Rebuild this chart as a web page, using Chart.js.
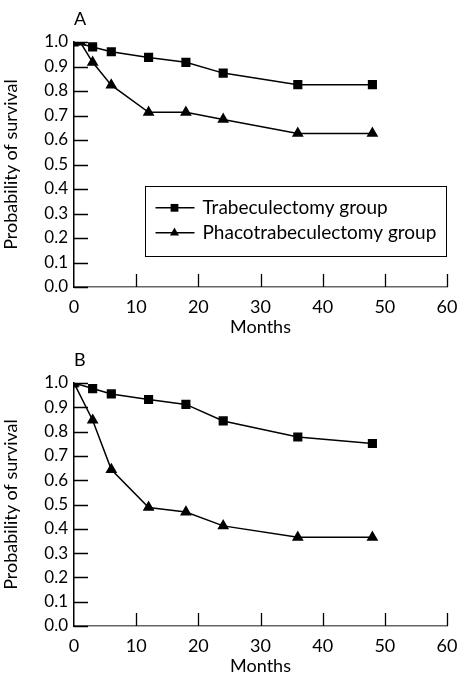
<!DOCTYPE html>
<html>
<head>
<meta charset="utf-8">
<script src="https://cdn.jsdelivr.net/npm/chart.js@4"></script>
<style>
  body { margin: 0; background: #fff; }
  canvas { display: block; }
</style>
</head>
<body>
<canvas id="chartA" width="458" height="338"></canvas>
<canvas id="chartB" width="458" height="339"></canvas>
<script>
// Monate und Überlebenswahrscheinlichkeiten
let monthsTrabA = [0, 3, 6, 12, 18, 24, 36, 48];
let trabA = [1.0, 0.98, 0.96, 0.937, 0.917, 0.873, 0.826, 0.826];
let monthsPhacoA = [0, 1, 3, 6, 12, 18, 24, 36, 48];
let phacoA = [1.0, 1.0, 0.917, 0.824, 0.713, 0.713, 0.684, 0.627, 0.627];

let monthsTrabB = [0, 3, 6, 12, 18, 24, 36, 48];
let trabB = [1.0, 0.977, 0.955, 0.932, 0.912, 0.844, 0.778, 0.751];
let monthsPhacoB = [0, 3, 6, 12, 18, 24, 36, 48];
let phacoB = [1.0, 0.847, 0.644, 0.488, 0.469, 0.412, 0.365, 0.365];

let seriesNames = ["Trabeculectomy group", "Phacotrabeculectomy group"];
let yTicks = [0, 0.1, 0.2, 0.3, 0.4, 0.5, 0.6, 0.7, 0.8, 0.9, 1.0];
let xTicks = [0, 10, 20, 30, 40, 50, 60];

const FONT = "Lato";

function toPoints(xs, ys) {
  return xs.map((x, i) => ({ x: x, y: ys[i] }));
}

// Ticks nach innen, Panelbuchstabe, Legende
const innerTicks = {
  id: "innerTicks",
  afterDraw(chart, args, opts) {
    let ctx = chart.ctx;
    let xs = chart.scales.x;
    let ys = chart.scales.y;
    let area = chart.chartArea;
    ctx.save();
    ctx.strokeStyle = "#000";
    ctx.lineWidth = 1.3;
    ctx.beginPath();
    for (let v of yTicks) {
      let py = Math.round(ys.getPixelForValue(v)) + 0.5;
      ctx.moveTo(area.left, py);
      ctx.lineTo(area.left + 14, py);
    }
    for (let v of xTicks) {
      if (v == 0) continue;
      let px = Math.round(xs.getPixelForValue(v)) + 0.5;
      ctx.moveTo(px, area.bottom);
      ctx.lineTo(px, area.bottom - 13);
    }
    ctx.stroke();
    // Buchstabe
    ctx.fillStyle = "#000";
    ctx.font = "18px " + FONT;
    ctx.textBaseline = "middle";
    ctx.textAlign = "left";
    ctx.fillText(opts.letter, area.left, area.top - 23);
    // Legende
    if (opts.legend) {
      let lx = xs.getPixelForValue(11.5);
      let rx = area.right;
      let ty = ys.getPixelForValue(0.413);
      let by = ys.getPixelForValue(0.127);
      ctx.strokeStyle = "#000";
      ctx.lineWidth = 1;
      ctx.strokeRect(Math.round(lx) + 0.5, Math.round(ty) + 0.5, Math.round(rx - lx) - 1, Math.round(by - ty));
      let styles = ["rect", "triangle"];
      let radii = [5.5, 5.2];
      for (let i = 0; i < 2; i++) {
        let cy = ty + 22 + i * 25;
        ctx.lineWidth = 1.5;
        ctx.beginPath();
        ctx.moveTo(lx + 10, cy);
        ctx.lineTo(lx + 49, cy);
        ctx.stroke();
        ctx.fillStyle = "#000";
        Chart.helpers.drawPoint(ctx, { pointStyle: styles[i], radius: radii[i], rotation: 0 }, lx + 29, cy);
        ctx.font = "19px " + FONT;
        ctx.textAlign = "left";
        ctx.textBaseline = "middle";
        ctx.fillText(seriesNames[i], lx + 57, cy);
      }
    }
    ctx.restore();
  },
};

function makeChart(id, letter, trabX, trabY, phacoX, phacoY, legend, topPad) {
  let ctx = document.getElementById(id).getContext("2d");
  return new Chart(ctx, {
    type: "line",
    data: {
      datasets: [
        {
          label: seriesNames[0],
          data: toPoints(trabX, trabY),
          borderColor: "#000",
          backgroundColor: "#000",
          borderWidth: 1.5,
          pointStyle: "rect",
          pointRadius: 5.4,
          tension: 0,
        },
        {
          label: seriesNames[1],
          data: toPoints(phacoX, phacoY),
          borderColor: "#000",
          backgroundColor: "#000",
          borderWidth: 1.5,
          pointStyle: "triangle",
          pointRadius: 5.3,
          tension: 0,
        },
      ],
    },
    options: {
      responsive: false,
      animation: false,
      layout: { padding: { left: 0, right: 11, top: topPad, bottom: 0 } },
      plugins: {
        legend: { display: false },
        tooltip: { enabled: false },
        innerTicks: { letter: letter, legend: legend },
      },
      scales: {
        x: {
          type: "linear",
          min: 0,
          max: 60,
          afterBuildTicks: (s) => { s.ticks = xTicks.map((v) => ({ value: v })); },
          afterFit: (s) => { s.height = 51; s.paddingLeft = 0; s.paddingRight = 0; },
          grid: { display: false, drawTicks: false },
          border: { display: true, color: "#666", width: 1.5 },
          ticks: { color: "#000", padding: 9, font: { family: FONT, size: 18 } },
          title: { display: true, text: "Months", color: "#000", padding: { top: 1, bottom: 0 }, font: { family: FONT, size: 18 } },
        },
        y: {
          type: "linear",
          min: 0,
          max: 1,
          afterBuildTicks: (s) => { s.ticks = yTicks.map((v) => ({ value: v })); },
          afterFit: (s) => { s.width = 74; s.paddingTop = 0; s.paddingBottom = 0; },
          grid: { display: false, drawTicks: false },
          border: { display: true, color: "#000", width: 1.5 },
          ticks: {
            color: "#000",
            padding: 6,
            font: { family: FONT, size: 17 },
            callback: (v) => Number(v).toFixed(1),
          },
          title: { display: true, text: "Probability of survival", color: "#000", padding: { top: 0, bottom: 4 }, font: { family: FONT, size: 18 } },
        },
      },
    },
    plugins: [innerTicks],
  });
}

makeChart("chartA", "A", monthsTrabA, trabA, monthsPhacoA, phacoA, true, 42);
makeChart("chartB", "B", monthsTrabB, trabB, monthsPhacoB, phacoB, false, 45);
</script>
</body>
</html>
